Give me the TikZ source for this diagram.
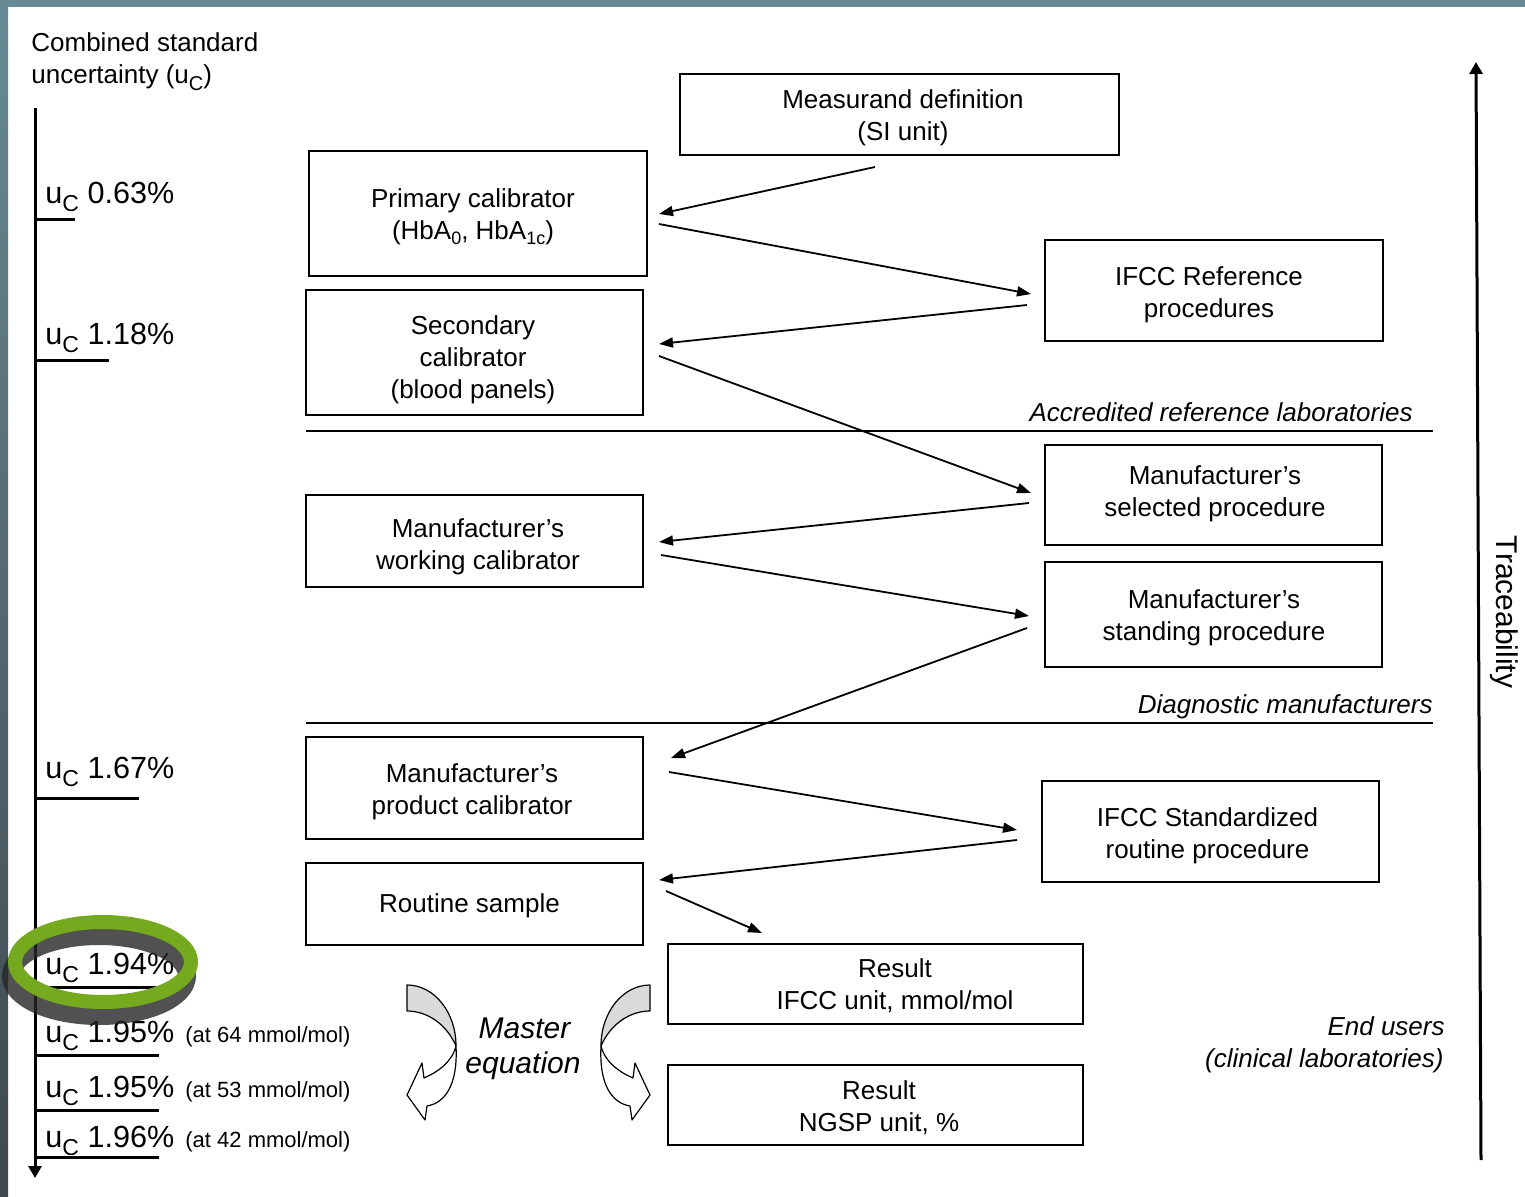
\documentclass[tikz,border=0pt]{standalone}
\usepackage{fontspec}
\setmainfont{Liberation Sans}
\usetikzlibrary{arrows.meta,calc}

\definecolor{framebg}{RGB}{104,138,148}
\definecolor{framedark}{RGB}{62,72,78}
\definecolor{ringgreen}{RGB}{118,170,30}
\definecolor{bandgray}{RGB}{218,218,218}

% lowered, smaller text for subscripts: size, drop, text
\newcommand\lowsub[3]{\raisebox{-#2}{\fontsize{#1}{#1}\selectfont #3}}
\newcommand\ucsym{u\lowsub{11.5}{4pt}{C}}

\begin{document}
\begin{tikzpicture}[x=0.5pt,y=-0.5pt,
  stage/.style={draw, line width=1pt, inner sep=0pt},
  plain/.style={align=center, inner sep=0pt, font=\fontsize{13}{16}\selectfont},
  flow/.style={-{Triangle[length=7pt,width=5pt]}, line width=0.9pt},
  axisline/.style={line width=1.5pt, -{Triangle[length=6pt,width=6.5pt]}},
  tickline/.style={line width=1.5pt},
  divider/.style={line width=0.9pt},
  ucl/.style={anchor=base west, inner sep=0pt, font=\fontsize{15.3}{18}\selectfont},
  conc/.style={anchor=base west, inner sep=0pt, font=\fontsize{11}{13}\selectfont},
  tierlabel/.style={anchor=base east, inner sep=0pt, font=\fontsize{13}{16}\selectfont\itshape},
  pics/bentarrow/.style={code={
    \filldraw[fill=bandgray, line width=0.6pt, line join=round]
      (407,985) .. controls (434,985) and (456,1012) .. (456,1046)
      .. controls (447,1025) and (428,1011) .. (407,1011) -- cycle;
    \filldraw[fill=white, line width=0.6pt, line join=round]
      (456,1046) .. controls (458,1085) and (445,1103) .. (427,1106)
      -- (425,1120) -- (407,1095) -- (422,1063) -- (424,1078)
      .. controls (438,1072) and (452,1062) .. (456,1046) -- cycle;
  }}]

% page and frame
\useasboundingbox (0,0) rectangle (1525,1197);
\fill[white] (0,0) rectangle (1525,1197);
\fill[framebg] (0,0) rectangle (1525,7);
\shade[top color=framebg, bottom color=framedark] (0,0) rectangle (8,1197);

% left scale: combined standard uncertainty
\node[anchor=base west, inner sep=0pt, font=\fontsize{13}{16}\selectfont] (hdr1) at (31,52) {Combined standard};
\node[anchor=base west, inner sep=0pt, font=\fontsize{13}{16}\selectfont] (hdr2) at (31,84) {uncertainty (u\lowsub{10}{3.5pt}{C})};
\coordinate (axtop) at (35,108);
\coordinate (axbot) at (35,1178);
\draw[axisline] (axtop) -- (axbot);

\draw[tickline] (35,220) -- (75,220);
\draw[tickline] (35,361) -- (109,361);
\draw[tickline] (35,798) -- (139,798);
\draw[tickline] (35,987) -- (157,987);
\draw[tickline] (35,1055) -- (159,1055);
\draw[tickline] (35,1110) -- (159,1110);
\draw[tickline] (35,1157) -- (159,1157);

\node[ucl] (uc1) at (45,204) {\ucsym\ 0.63\%};
\node[ucl] (uc2) at (45,345) {\ucsym\ 1.18\%};
\node[ucl] (uc3) at (45,778) {\ucsym\ 1.67\%};
\node[ucl] (uc4) at (45,974) {\ucsym\ 1.94\%};
\node[ucl] (uc5) at (45,1042) {\ucsym\ 1.95\%};
\node[ucl] (uc6) at (45,1097) {\ucsym\ 1.95\%};
\node[ucl] (uc7) at (45,1147) {\ucsym\ 1.96\%};
\node[conc] (c5) at (185,1042) {(at 64 mmol/mol)};
\node[conc] (c6) at (185,1097) {(at 53 mmol/mol)};
\node[conc] (c7) at (185,1147) {(at 42 mmol/mol)};

% highlight ring with its shadow
\draw[black!85, opacity=0.8, line width=9pt] (99,976) ellipse [x radius=88, y radius=40];
\draw[ringgreen, line width=7pt] (103,962) ellipse [x radius=88, y radius=40];

% traceability chain: boxes
\node[stage, minimum width=219.5pt, minimum height=40.5pt] (meas) at (899.5,114.5) {};
\node[stage, minimum width=169pt, minimum height=62.5pt] (prim) at (478,213.5) {};
\node[stage, minimum width=169pt, minimum height=50.5pt] (ifccref) at (1214,290.5) {};
\node[stage, minimum width=168.5pt, minimum height=62.5pt] (sec) at (474.5,352.5) {};
\node[stage, minimum width=168.5pt, minimum height=50pt] (sel) at (1213.5,495) {};
\node[stage, minimum width=168.5pt, minimum height=46pt] (work) at (474.5,541) {};
\node[stage, minimum width=168.5pt, minimum height=52.5pt] (stand) at (1213.5,614.5) {};
\node[stage, minimum width=168.5pt, minimum height=51pt] (prod) at (474.5,788) {};
\node[stage, minimum width=168.5pt, minimum height=50.5pt] (ifccstd) at (1210.5,831.5) {};
\node[stage, minimum width=168.5pt, minimum height=41pt] (routine) at (474.5,904) {};
\node[stage, minimum width=207.5pt, minimum height=40pt] (res1) at (875.5,984) {};
\node[stage, minimum width=207.5pt, minimum height=40pt] (res2) at (875.5,1105) {};

% traceability chain: box texts
\node[plain] (measT) at (903,117.5) {Measurand definition\\(SI unit)};
\node[plain] (primT) at (473,216.5) {Primary calibrator\\(HbA\lowsub{9}{2.5pt}{0}, HbA\lowsub{9}{2.5pt}{1c})};
\node[plain] (ifccrefT) at (1209,294.5) {IFCC Reference\\procedures};
\node[plain] (secT) at (473,359.5) {Secondary\\calibrator\\(blood panels)};
\node[plain] (selT) at (1215,494) {Manufacturer’s\\selected procedure};
\node[plain] (workT) at (478,547) {Manufacturer’s\\working calibrator};
\node[plain] (standT) at (1214,617.5) {Manufacturer’s\\standing procedure};
\node[plain] (prodT) at (472,792) {Manufacturer’s\\product calibrator};
\node[plain] (ifccstdT) at (1207.5,835.5) {IFCC Standardized\\routine procedure};
\node[plain] (routineT) at (469.5,906) {Routine sample};
\node[plain] (res1T) at (895,986) {Result\\IFCC unit, mmol/mol};
\node[plain] (res2T) at (879,1108) {Result\\NGSP unit, \%};

\draw[flow] ([shift={(-24.5,11)}]meas.south) -- ([shift={(11,0.5)}]prim.east);
\draw[flow] ([shift={(11,10.5)}]prim.east) -- ([shift={(-13,3.5)}]ifccref.west);
\draw[flow] ([shift={(-17,14.5)}]ifccref.west) -- ([shift={(15,-8.5)}]sec.east);
\draw[flow] ([shift={(15,3.5)}]sec.east) -- ([shift={(-13,-2)}]sel.west);
\draw[flow] ([shift={(-15,8)}]sel.west) -- ([shift={(15,1)}]work.east);
\draw[flow] ([shift={(17,14)}]work.east) -- ([shift={(-15,1.5)}]stand.west);
\draw[flow] ([shift={(-17,13.5)}]stand.west) -- ([shift={(27,-30)}]prod.east);
\draw[flow] ([shift={(25,-16)}]prod.east) -- ([shift={(-24,-1.5)}]ifccstd.west);
\draw[flow] ([shift={(-24,8.5)}]ifccstd.west) -- ([shift={(15,-24)}]routine.east);
\draw[flow] ([shift={(22,-13)}]routine.east) -- ([shift={(-113.5,-10)}]res1.north);

% tier dividers
\coordinate (d1l) at (306,431);
\coordinate (d1r) at (1433,431);
\coordinate (d2l) at (306,723);
\coordinate (d2r) at (1433,723);
\draw[divider] (d1l) -- (d1r);
\draw[divider] (d2l) -- (d2r);
\node[tierlabel] (tier1) at (1413,422) {Accredited reference laboratories};
\node[tierlabel] (tier2) at (1433,713) {Diagnostic manufacturers};
\node[tierlabel] (tier3a) at (1445,1035) {End users};
\node[tierlabel] (tier3b) at (1444,1067) {(clinical laboratories)};

% master equation
\pic {bentarrow};
\pic[shift={(1057,0)}, xscale=-1] {bentarrow};
\node[anchor=base, inner sep=0pt, font=\fontsize{15}{18}\selectfont\itshape] (meq1) at (524.5,1038) {Master};
\node[anchor=base, inner sep=0pt, font=\fontsize{15}{18}\selectfont\itshape] (meq2) at (523,1073) {equation};

% right scale: traceability
\coordinate (trbot) at (1481,1160);
\coordinate (trtop) at (1476,62);
\draw[axisline] (trbot) -- (trtop);
\node[rotate=-90, inner sep=0pt, font=\fontsize{15}{18}\selectfont] (trace) at (1504,612) {Traceability};

\end{tikzpicture}
\end{document}
